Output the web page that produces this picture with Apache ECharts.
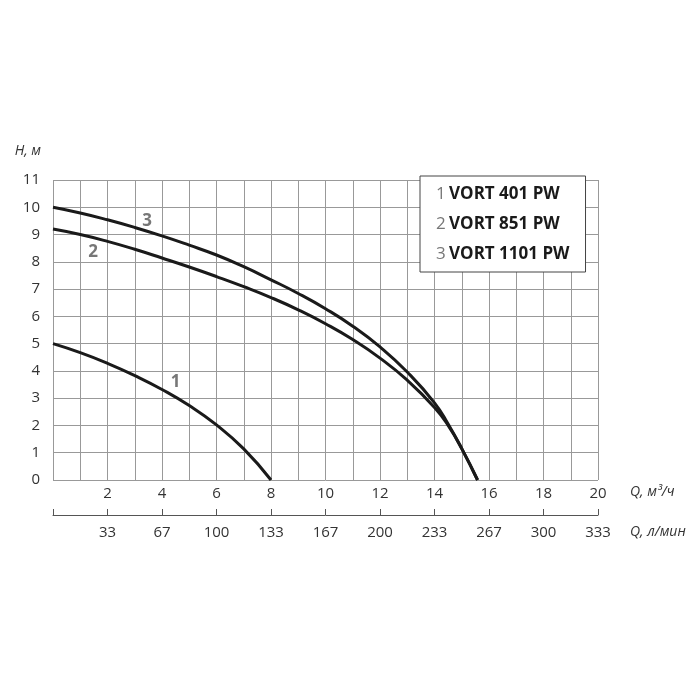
<!DOCTYPE html>
<html>
<head>
<meta charset="utf-8">
<script src="https://cdn.jsdelivr.net/npm/echarts@6/dist/echarts.min.js"></script>
<style>
  html, body { margin: 0; padding: 0; background: #fff; }
  #chart { width: 700px; height: 700px; }
</style>
</head>
<body>
<div id="chart"></div>
<script>
// напорные характеристики (Q, м3/ч -> H, м)
var q1 = [0, 1, 2, 3, 4, 5, 6, 7, 8];
var h1 = [5.0, 4.67, 4.28, 3.83, 3.32, 2.73, 2.02, 1.14, 0];

var q23 = [0, 1, 2, 3, 4, 5, 6, 7, 8, 9, 10, 11, 12, 13, 14, 14.5, 15, 15.58];
var h2 = [9.2, 9.0, 8.75, 8.46, 8.14, 7.81, 7.46, 7.09, 6.69, 6.24, 5.73, 5.15, 4.47, 3.66, 2.66, 2.0, 1.15, 0];
var h3 = [10.0, 9.79, 9.54, 9.26, 8.95, 8.61, 8.25, 7.82, 7.34, 6.84, 6.28, 5.64, 4.88, 3.96, 2.83, 2.05, 1.15, 0];

var models = ['VORT 401 PW', 'VORT 851 PW', 'VORT 1101 PW'];
var curveNums = ['1', '2', '3'];
// подписи кривых [Q, H]
var curveLabelPos = [[4.5, 3.6], [1.47, 8.36], [3.45, 9.5]];

// нижняя шкала л/мин (для Q = 0, 2, 4 ... 20)
var lpmLabels = ['', '33', '67', '100', '133', '167', '200', '233', '267', '300', '333'];

var myChart = echarts.init(document.getElementById('chart'));

function pairs(qs, hs) {
    var out = [];
    for (var i = 0; i < qs.length; i++) out.push([qs[i], hs[i]]);
    return out;
}

var textFont = '"Open Sans", "Noto Sans", sans-serif';
var series = [];
var curves = [pairs(q1, h1), pairs(q23, h2), pairs(q23, h3)];
for (var i = 0; i < 3; i++) {
    series.push({
        name: models[i],
        type: 'line',
        xAxisIndex: 0,
        data: curves[i],
        smooth: 0.5,
        symbol: 'none',
        lineStyle: { color: '#1a1a1a', width: 3 },
        itemStyle: { color: '#1a1a1a' },
        markPoint: {
            symbol: 'circle',
            symbolSize: 0,
            label: {
                show: true,
                formatter: curveNums[i],
                color: '#777',
                fontFamily: textFont,
                fontWeight: 'bold',
                fontSize: 17
            },
            data: [{ coord: curveLabelPos[i] }]
        }
    });
}

var option = {
    animation: false,
    grid: { left: 53, right: 102, top: 180, bottom: 220 },
    legend: {
        orient: 'vertical',
        left: 420,
        top: 176,
        backgroundColor: '#fff',
        borderColor: '#444',
        borderWidth: 1,
        borderRadius: 0,
        padding: [10, 16, 9, 11],
        itemGap: 13,
        itemWidth: 0,
        itemHeight: 0,
        icon: 'none',
        selectedMode: false,
        data: models,
        formatter: function (name) {
            var k = models.indexOf(name);
            return '{n|' + curveNums[k] + '} {v|' + name + '}';
        },
        textStyle: {
            rich: {
                n: { color: '#777', fontSize: 17, fontFamily: textFont },
                v: { color: '#1a1a1a', fontSize: 17, fontWeight: 'bold', fontFamily: textFont }
            }
        }
    },
    xAxis: [{
        type: 'value',
        min: 0,
        max: 20,
        interval: 1,
        name: 'Q, м³/ч',
        nameLocation: 'end',
        nameGap: 32,
        nameTextStyle: {
            color: '#333', fontSize: 14, fontStyle: 'italic', fontFamily: textFont,
            verticalAlign: 'top', padding: [5, 0, 0, 0]
        },
        axisLine: { show: false },
        axisTick: { show: false },
        axisLabel: {
            color: '#333', fontSize: 15, fontFamily: textFont, margin: 6,
            formatter: function (v) { return (v > 0 && v % 2 === 0) ? String(v) : ''; }
        },
        splitLine: { show: true, lineStyle: { color: '#999', width: 1 } }
    }, {
        type: 'value',
        position: 'bottom',
        offset: 35,
        min: 0,
        max: 20,
        interval: 2,
        name: 'Q, л/мин',
        nameLocation: 'end',
        nameGap: 32,
        nameTextStyle: {
            color: '#333', fontSize: 14, fontStyle: 'italic', fontFamily: textFont,
            verticalAlign: 'top', padding: [10, 0, 0, 0]
        },
        axisLine: { show: true, lineStyle: { color: '#555', width: 1 } },
        axisTick: { show: true, inside: true, length: 6, lineStyle: { color: '#555' } },
        axisLabel: {
            color: '#333', fontSize: 15, fontFamily: textFont, margin: 10,
            formatter: function (v) { return lpmLabels[Math.round(v / 2)]; }
        },
        splitLine: { show: false }
    }],
    yAxis: {
        type: 'value',
        min: 0,
        max: 11,
        interval: 1,
        name: 'H, м',
        nameLocation: 'end',
        nameGap: 22,
        nameTextStyle: {
            color: '#333', fontSize: 14, fontStyle: 'italic', fontFamily: textFont,
            align: 'right', padding: [0, 12, 0, 0]
        },
        axisLine: { show: false },
        axisTick: { show: false },
        axisLabel: { color: '#333', fontSize: 15, fontFamily: textFont, margin: 13 },
        splitLine: { show: true, lineStyle: { color: '#999', width: 1 } }
    },
    series: series
};

myChart.setOption(option);
</script>
</body>
</html>
